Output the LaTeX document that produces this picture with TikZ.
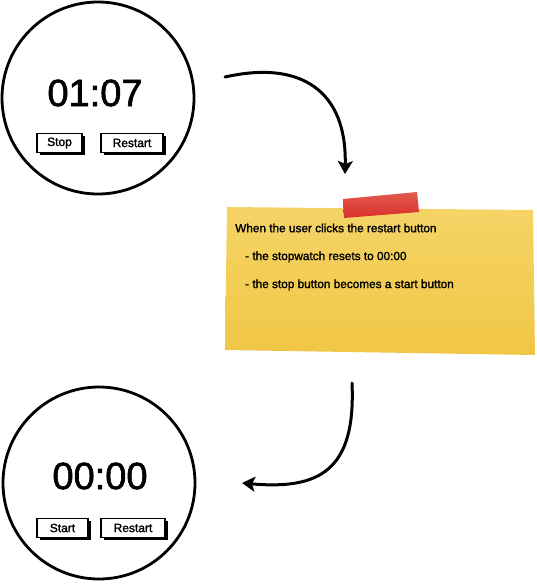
\documentclass[tikz,border=0pt]{standalone}
\usepackage{fontspec}
\setmainfont{Liberation Sans}
\newfontfamily\sketchfont{Liberation Sans}[FakeBold=1.6]
\usetikzlibrary{arrows.meta,positioning,shadows}

\definecolor{noteTop}{HTML}{F5D466}
\definecolor{noteBottom}{HTML}{F0C645}
\definecolor{tapeTop}{HTML}{E35A50}
\definecolor{tapeBottom}{HTML}{D9302A}

\begin{document}
\begin{tikzpicture}[x=1pt,y=-1pt,>={Stealth[length=13pt,width=15pt,inset=3pt]}]

  \tikzset{
    watch/.style={circle, draw=black, line width=2.8pt, minimum size=192pt, inner sep=0pt},
    digits/.style={font=\sketchfont\fontsize{38}{40}\selectfont, inner sep=0pt},
    button/.style={draw=black, line width=1.5pt, fill=white, minimum height=19pt,
      inner sep=0pt, font=\sketchfont\fontsize{12}{14}\selectfont,
      drop shadow={shadow xshift=2.5pt, shadow yshift=-2.5pt, fill=black, opacity=1}},
    flow/.style={->, line width=3pt, line cap=round},
    notetext/.style={font=\sketchfont\fontsize{11.8}{14}\selectfont, anchor=west, inner sep=0pt}
  }

  % ── canvas ──────────────────────────────────────────────────────────
  \fill[white] (0,0) rectangle (536,584);
  \useasboundingbox (0,0) rectangle (536,584);

  % ── running stopwatch ───────────────────────────────────────────────
  \node[watch] (watchA) at (98,98) {};
  \node[digits] (timeA) at (95,93) {01:07};
  \node[button, minimum width=45pt] (stopA) at (59.5,143) {Stop};
  \node[button, minimum width=62pt] (restartA) at (132,143) {Restart};

  % ── sticky note with its tape ───────────────────────────────────────
  \shade[top color=noteTop, bottom color=noteBottom]
        (227,207) -- (533,210) -- (535,355) -- (225,350) -- cycle;
  \shade[top color=tapeTop, bottom color=tapeBottom]
        (343,199) -- (417,192) -- (419,212) -- (344,218) -- cycle;

  \node[notetext] (rule)  at (235,228) {When the user clicks the restart button};
  \node[notetext] (step1) at (245,257) {- the stopwatch resets to 00:00};
  \node[notetext] (step2) at (245,285) {- the stop button becomes a start button};

  % ── reset stopwatch ─────────────────────────────────────────────────
  \node[watch] (watchB) at (99,483) {};
  \node[digits] (timeB) at (100,476) {00:00};
  \node[button, minimum width=51pt] (startB) at (62.5,528) {Start};
  \node[button, minimum width=64pt] (restartB) at (133,528) {Restart};

  % ── flow arrows ─────────────────────────────────────────────────────
  \coordinate (flowAstart) at (225,77);
  \coordinate (flowAend)   at (345,174);
  \draw[flow] (flowAstart) .. controls (300,60) and (347,90) .. (flowAend);

  \coordinate (flowBstart) at (352,383);
  \coordinate (flowBend)   at (242,483);
  \draw[flow] (flowBstart) .. controls (356,470) and (320,490) .. (flowBend);

\end{tikzpicture}
\end{document}
